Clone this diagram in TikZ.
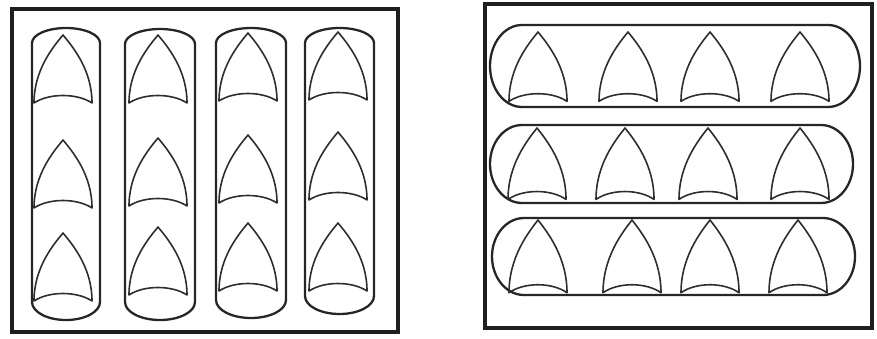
\documentclass[tikz,border=0pt]{standalone}
\begin{document}
\begin{tikzpicture}[x=1pt,y=-1pt]
\tikzset{
  frame/.style={line width=4.5pt, draw=black!88},
  stad/.style={line width=2.3pt, draw=black!85, line join=round},
  archline/.style={line width=1.6pt, draw=black!82, line join=round},
  arch/.pic={\draw[archline] (0,0) .. controls (10,12) and (29,35) .. (29,68)
      .. controls (14,58) and (-14,58) .. (-29,68)
      .. controls (-29,35) and (-10,12) .. cycle;}
}
\newcommand\vstadium[6]{%
  \draw[stad] ({#1},{#3+#5}) arc[start angle=180,end angle=360,x radius={(#2-#1)/2},y radius=#5]
    -- ({#2},{#4-#6}) arc[start angle=0,end angle=180,x radius={(#2-#1)/2},y radius=#6] -- cycle;}
\newcommand\hstadium[5]{%
  \draw[stad] ({#1+#5},{#3}) -- ({#2-#5},{#3})
    arc[start angle=-90,end angle=90,x radius=#5,y radius={(#4-#3)/2}]
    -- ({#1+#5},{#4})
    arc[start angle=90,end angle=270,x radius=#5,y radius={(#4-#3)/2}] -- cycle;}
\useasboundingbox (0,0) rectangle (877,338);
% left panel
\draw[frame] (12,9) rectangle (398,332);
\vstadium{32}{100}{28}{320}{15}{18}
\vstadium{125}{195}{29}{320}{15}{18}
\vstadium{216}{286}{28}{318}{15}{18}
\vstadium{305}{374}{28}{314}{15}{18}
\foreach \x/\a/\b/\c in {63/35/140/233, 158/35/138/227, 248/33/135/223, 338/32/132/223}{
  \pic at (\x,\a) {arch};
  \pic at (\x,\b) {arch};
  \pic at (\x,\c) {arch};
}
% right panel
\draw[frame] (485,4) rectangle (872,328);
\hstadium{490}{860}{25}{107}{32}
\hstadium{490}{853}{125}{203}{32}
\hstadium{492}{855}{218}{295}{32}
\foreach \x in {538,628,710,800}{\pic[yscale=1.02] at (\x,32) {arch};}
\foreach \x in {537,625,708,800}{\pic[yscale=1.05] at (\x,128) {arch};}
\foreach \x in {538,632,710,798}{\pic[yscale=1.07] at (\x,220) {arch};}
\end{tikzpicture}
\end{document}
